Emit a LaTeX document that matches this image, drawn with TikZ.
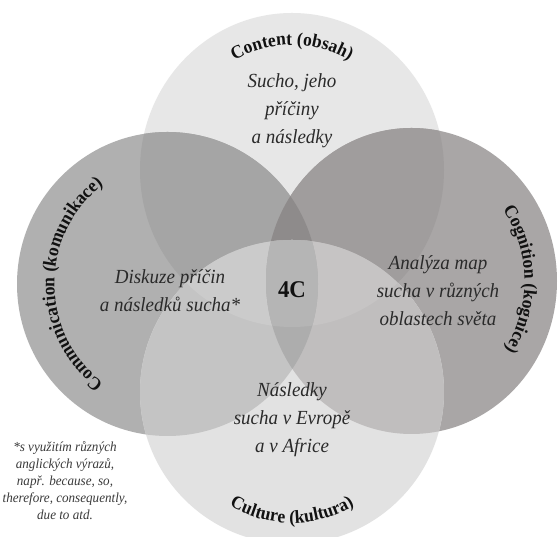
\documentclass[tikz,border=0pt]{standalone}
\usepackage{fontspec}
\setmainfont{Liberation Serif}[FakeStretch=0.95]
\usetikzlibrary{decorations.text}

\definecolor{cT}{HTML}{E7E7E7}
\definecolor{cL}{HTML}{B0B0B0}
\definecolor{cR}{HTML}{A9A6A6}
\definecolor{cB}{HTML}{E2E2E2}
\definecolor{cTL}{HTML}{A5A5A5}
\definecolor{cTR}{HTML}{A09D9D}
\definecolor{cLB}{HTML}{C4C4C4}
\definecolor{cRB}{HTML}{C0BEBE}
\definecolor{cTLR}{HTML}{8E8B8B}
\definecolor{cTLB}{HTML}{CBCBCB}
\definecolor{cTRB}{HTML}{C6C4C4}
\definecolor{cLRB}{HTML}{ADADAD}
\definecolor{cAll}{HTML}{B5B5B5}
\definecolor{txt}{HTML}{2A2A2A}
\definecolor{lbl}{HTML}{111111}
\definecolor{note}{HTML}{3A3A3A}

\newcommand\shT{(292,367) ellipse [x radius=152, y radius=157]}
\newcommand\shL{(167.5,253) ellipse [x radius=150.5, y radius=152]}
\newcommand\shR{(411.5,256) ellipse [x radius=145.5, y radius=153]}
\newcommand\shB{(292,145) ellipse [x radius=152, y radius=152]}
\newcommand\lblfont{\bfseries\fontsize{18.5}{20}\selectfont}

\tikzset{
  body/.style={align=center, text=txt, font=\itshape\fontsize{20}{28}\selectfont},
  labelpath/.style={decorate, decoration={text along path, text align=center,
     text color=lbl, text={|\lblfont|#1}}}
}

\begin{document}
\begin{tikzpicture}[x=1pt,y=1pt]
\useasboundingbox (0,0) rectangle (558,537);
\fill[white] (0,0) rectangle (558,537);

% single circles
\fill[cT] \shT;
\fill[cL] \shL;
\fill[cR] \shR;
\fill[cB] \shB;
% pairs
\begin{scope}\clip \shT; \fill[cTL] \shL; \end{scope}
\begin{scope}\clip \shT; \fill[cTR] \shR; \end{scope}
\begin{scope}\clip \shL; \fill[cLB] \shB; \end{scope}
\begin{scope}\clip \shR; \fill[cRB] \shB; \end{scope}
% triples
\begin{scope}\clip \shT; \clip \shL; \fill[cTLR] \shR; \end{scope}
\begin{scope}\clip \shT; \clip \shL; \fill[cTLB] \shB; \end{scope}
\begin{scope}\clip \shT; \clip \shR; \fill[cTRB] \shB; \end{scope}
\begin{scope}\clip \shL; \clip \shR; \fill[cLRB] \shB; \end{scope}
% all four
\begin{scope}\clip \shT; \clip \shL; \clip \shR; \fill[cAll] \shB; \end{scope}

% curved labels
\path[labelpath={Content (obsah)}]
  (292,367) ++(135:119 and 125) arc[start angle=135, end angle=45, x radius=119, y radius=125];
\path[labelpath={Communication (komunikace)}]
  (167.5,253) ++(250:113 and 120) arc[start angle=250, end angle=110, x radius=113, y radius=120];
\path[labelpath={Cognition (kognice)}]
  (411.5,256) ++(62:113 and 121) arc[start angle=62, end angle=-60, x radius=113, y radius=121];
\path[labelpath={Culture (kultura)}]
  (292,145) ++(220:126 and 131) arc[start angle=220, end angle=320, x radius=126, y radius=131];

% texts
\node[body] (topText) at (292,426) {Sucho, jeho\\příčiny\\a následky};
\node[body] (leftText) at (170,246) {Diskuze příčin\\a následků sucha*};
\node[body] (rightText) at (438,246) {Analýza map\\sucha v různých\\oblastech světa};
\node[body] (bottomText) at (292,117) {Následky\\sucha v Evropě\\a v Africe};
\node[font=\bfseries\fontsize{24}{26}\selectfont, text=lbl] (fourC) at (292,247) {4C};
\node[align=center, text=note, font=\itshape\fontsize{13.8}{17}\selectfont] (footnote) at (65,56)
  {*s využitím různých\\anglických výrazů,\\např. because, so,\\therefore, consequently,\\due to atd.};
\end{tikzpicture}
\end{document}
